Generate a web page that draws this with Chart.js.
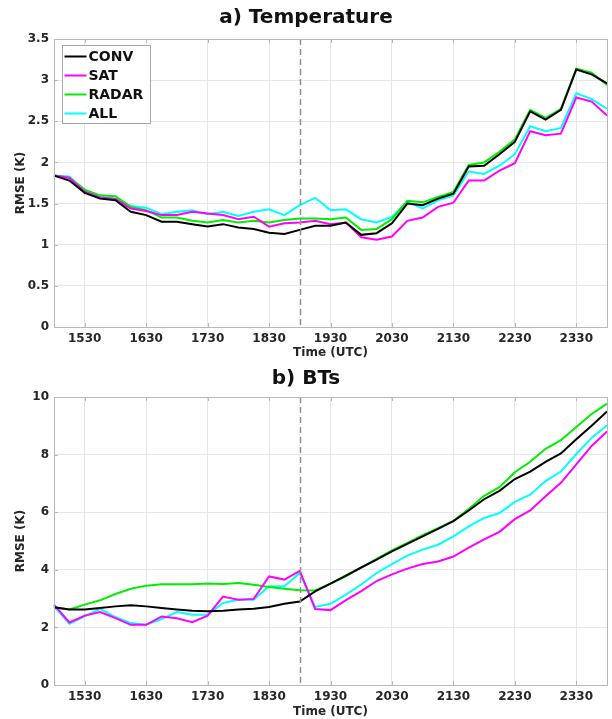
<!DOCTYPE html>
<html>
<head>
<meta charset="utf-8">
<script src="https://cdn.jsdelivr.net/npm/chart.js@4.4.1/dist/chart.umd.min.js"></script>
<style>
  html, body { margin: 0; padding: 0; background: #fff; overflow: hidden; }
  canvas { position: absolute; left: 0; }
  #tempChart { top: 0; }
  #btChart { top: 360px; }
</style>
</head>
<body>
<canvas id="tempChart" width="612" height="360"></canvas>
<canvas id="btChart" width="612" height="359"></canvas>
<script>
// times every 15 min, 1500 -> 2400 UTC
const times = ['1500','1515','1530','1545','1600','1615','1630','1645','1700','1715','1730','1745',
  '1800','1815','1830','1845','1900','1915','1930','1945','2000','2015','2030','2045',
  '2100','2115','2130','2145','2200','2215','2230','2245','2300','2315','2330','2345','2400']
const splitTime = '1900'

const seriesNames = ['CONV', 'SAT', 'RADAR', 'ALL']
const seriesColors = ['#000000', '#ff00ff', '#00ee00', '#00ffff']

// a) Temperature RMSE (K)
const tempConv = [1.84,1.78,1.63,1.56,1.54,1.40,1.36,1.28,1.28,1.25,1.22,1.25,1.21,1.19,1.145,1.13,1.18,
  1.23,1.23,1.27,1.12,1.14,1.26,1.50,1.48,1.56,1.62,1.95,1.96,2.10,2.25,2.62,2.52,2.64,3.13,3.07,2.96]
const tempSat = [1.84,1.81,1.645,1.575,1.555,1.44,1.41,1.36,1.36,1.40,1.38,1.36,1.31,1.34,1.22,1.26,1.27,
  1.29,1.25,1.27,1.09,1.06,1.10,1.29,1.33,1.46,1.51,1.78,1.78,1.90,1.99,2.38,2.33,2.35,2.79,2.74,2.57]
const tempRadar = [1.84,1.815,1.67,1.60,1.59,1.46,1.42,1.33,1.33,1.29,1.27,1.30,1.27,1.29,1.27,1.30,1.32,
  1.32,1.31,1.33,1.18,1.19,1.31,1.535,1.515,1.58,1.64,1.97,2.0,2.13,2.28,2.64,2.54,2.65,3.14,3.09,2.94]
const tempAll = [1.84,1.83,1.66,1.58,1.56,1.47,1.45,1.37,1.40,1.42,1.37,1.40,1.35,1.40,1.43,1.36,1.48,
  1.57,1.42,1.43,1.31,1.27,1.34,1.52,1.44,1.54,1.60,1.89,1.86,1.96,2.10,2.44,2.38,2.42,2.84,2.77,2.65]

// b) BTs RMSE (K)
const btConv = [2.70,2.62,2.62,2.67,2.73,2.77,2.73,2.67,2.62,2.58,2.56,2.58,2.62,2.65,2.71,2.82,2.90,
  3.25,3.52,3.80,4.08,4.35,4.64,4.90,5.16,5.42,5.69,6.06,6.45,6.74,7.15,7.41,7.75,8.04,8.53,9.00,9.50]
const btSat = [2.79,2.17,2.41,2.53,2.32,2.09,2.09,2.38,2.32,2.18,2.41,3.07,2.96,2.99,3.77,3.66,3.96,
  2.64,2.60,2.95,3.26,3.61,3.84,4.04,4.20,4.29,4.46,4.77,5.06,5.32,5.76,6.06,6.55,7.02,7.66,8.30,8.80]
const btRadar = [2.70,2.62,2.79,2.94,3.16,3.34,3.45,3.50,3.50,3.50,3.52,3.51,3.54,3.48,3.40,3.34,3.29,
  3.28,3.52,3.77,4.08,4.38,4.67,4.93,5.20,5.45,5.70,6.11,6.57,6.87,7.39,7.75,8.20,8.50,8.96,9.41,9.77]
const btAll = [2.73,2.13,2.38,2.64,2.36,2.15,2.09,2.29,2.53,2.44,2.44,2.85,2.96,2.96,3.43,3.43,3.89,
  2.71,2.82,3.14,3.49,3.89,4.20,4.49,4.70,4.87,5.16,5.51,5.80,5.97,6.36,6.61,7.08,7.41,8.02,8.58,9.02]

const FONT = "'DejaVu Sans', sans-serif"
const TXT = '#262626'

// dashed line at the split time, box round the axes, small inward ticks
const frame = {
  id: 'frame',
  afterDatasetsDraw(chart) {
    const { ctx, chartArea: a, scales: { x, y } } = chart
    const px = Math.round(x.getPixelForValue(times.indexOf(splitTime))) + 0.5
    ctx.save()
    ctx.strokeStyle = '#8f8f8f'
    ctx.lineWidth = 1.5
    ctx.setLineDash([6, 4])
    ctx.beginPath()
    ctx.moveTo(px, a.top)
    ctx.lineTo(px, a.bottom)
    ctx.stroke()
    ctx.setLineDash([])
    ctx.strokeStyle = '#b8b8b8'
    ctx.lineWidth = 1
    ctx.strokeRect(a.left + 0.5, a.top + 0.5, a.width, a.height)
    ctx.beginPath()
    x.ticks.forEach((t, i) => {
      if (i % 4 !== 2) return
      const tx = Math.round(x.getPixelForTick(i)) + 0.5
      ctx.moveTo(tx, a.bottom); ctx.lineTo(tx, a.bottom - 4)
      ctx.moveTo(tx, a.top); ctx.lineTo(tx, a.top + 4)
    })
    y.ticks.forEach((t, i) => {
      const ty = Math.round(y.getPixelForTick(i)) + 0.5
      ctx.moveTo(a.left, ty); ctx.lineTo(a.left + 4, ty)
    })
    ctx.stroke()
    ctx.restore()
  }
}

// MATLAB-like legend box in the upper left corner
const boxLegend = {
  id: 'boxLegend',
  afterDraw(chart) {
    const { ctx, chartArea: a } = chart
    const x0 = a.left + 8.5, y0 = a.top + 6.5
    ctx.save()
    ctx.fillStyle = '#fff'
    ctx.fillRect(x0, y0, 88, 78)
    ctx.strokeStyle = '#a6a6a6'
    ctx.lineWidth = 1
    ctx.strokeRect(x0, y0, 88, 78)
    ctx.font = 'bold 14px ' + FONT
    ctx.textBaseline = 'middle'
    chart.data.datasets.forEach((ds, i) => {
      const y = y0 + 11 + i * 19
      ctx.strokeStyle = ds.borderColor
      ctx.lineWidth = 2
      ctx.beginPath()
      ctx.moveTo(x0 + 2, y)
      ctx.lineTo(x0 + 24, y)
      ctx.stroke()
      ctx.fillStyle = '#111'
      ctx.fillText(ds.label, x0 + 26, y + 1)
    })
    ctx.restore()
  }
}

function makeDatasets(values) {
  return values.map((v, i) => ({
    label: seriesNames[i],
    data: v,
    borderColor: seriesColors[i],
    backgroundColor: seriesColors[i],
    borderWidth: 2,
    pointRadius: 0,
    tension: 0,
    fill: false,
  }))
}

function makeChart(id, title, values, yMax, yStep, top, xHeight, extraPlugins) {
  return new Chart(document.getElementById(id), {
    type: 'line',
    data: { labels: times, datasets: makeDatasets(values) },
    plugins: [frame, ...extraPlugins],
    options: {
      responsive: false,
      animation: false,
      layout: { padding: { left: 0, right: 0, top: 0, bottom: 0 } },
      plugins: {
        legend: { display: false },
        tooltip: { enabled: false },
        title: {
          display: true,
          text: title,
          color: '#111',
          font: { family: FONT, size: 20, weight: 'bold' },
          padding: { top: top.pt, bottom: top.pb },
        },
      },
      scales: {
        x: {
          offset: false,
          afterFit: s => { s.height = xHeight },
          grid: {
            drawTicks: false,
            color: c => (c.index % 4 === 2 ? '#e6e6e6' : 'rgba(0,0,0,0)'),
          },
          border: { display: false },
          ticks: {
            autoSkip: false,
            maxRotation: 0,
            padding: 5,
            color: TXT,
            font: { family: FONT, size: 12, weight: 'bold' },
            callback: (v, i) => (i % 4 === 2 ? times[i] : ''),
          },
          title: {
            display: true,
            text: 'Time (UTC)',
            color: TXT,
            padding: { top: 1, bottom: 0 },
            font: { family: FONT, size: 12, weight: 'bold' },
          },
        },
        y: {
          min: 0,
          max: yMax,
          afterFit: s => { s.width = 54 },
          grid: { drawTicks: false, color: '#e6e6e6' },
          border: { display: false },
          ticks: {
            stepSize: yStep,
            padding: 5,
            color: TXT,
            font: { family: FONT, size: 12, weight: 'bold' },
            callback: v => String(Math.round(v * 10) / 10),
          },
          title: {
            display: true,
            text: 'RMSE (K)',
            color: TXT,
            padding: { top: 14, bottom: 0 },
            font: { family: FONT, size: 12, weight: 'bold' },
          },
        },
      },
    },
  })
}

makeChart('tempChart', 'a) Temperature', [tempConv, tempSat, tempRadar, tempAll],
  3.5, 0.5, { pt: 6, pb: 9 }, 33, [boxLegend])
makeChart('btChart', 'b) BTs', [btConv, btSat, btRadar, btAll],
  10, 2, { pt: 7, pb: 6 }, 34, [])
</script>
</body>
</html>
